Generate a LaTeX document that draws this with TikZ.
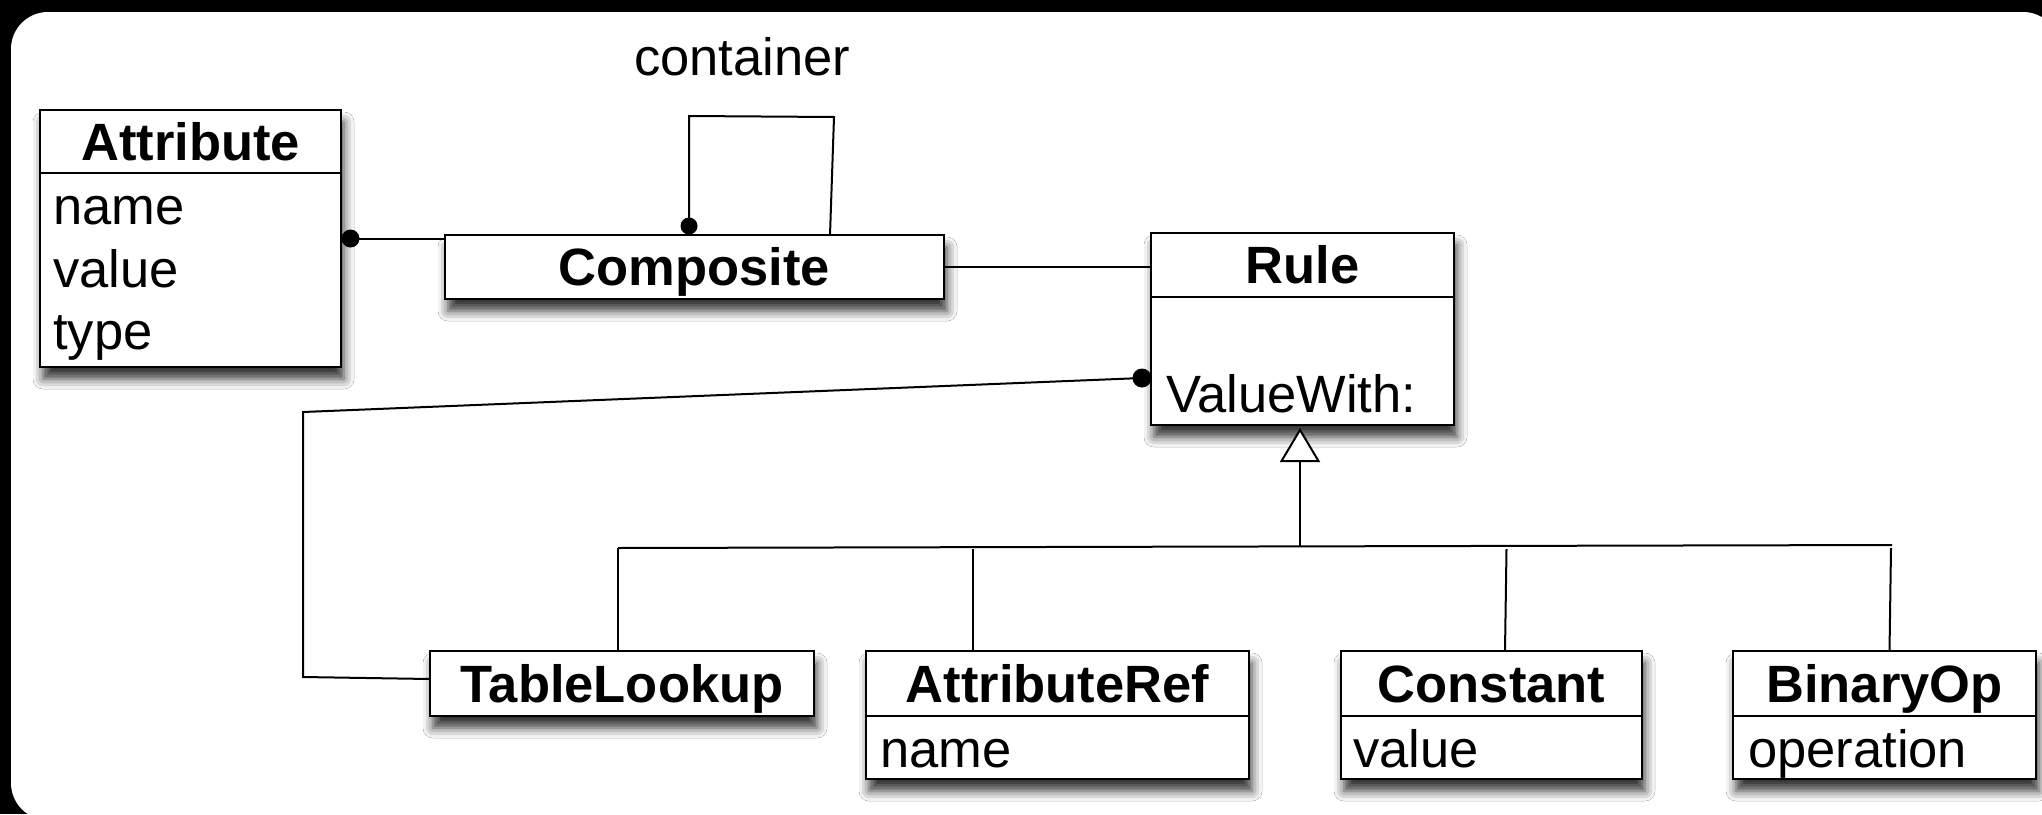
\documentclass[tikz,border=0pt]{standalone}
\usepackage{fontspec}
\setmainfont{Liberation Sans}
\usetikzlibrary{arrows.meta,calc,shadows.blur}
\begin{document}
\begin{tikzpicture}[x=1pt,y=-1pt,
  classbox/.style={draw, fill=white, line width=2.5pt, inner sep=0pt, outer sep=0pt, anchor=north west,
    blur shadow={shadow xshift=3pt, shadow yshift=-12pt, shadow blur radius=10pt, shadow opacity=80}},
  classtitle/.style={font=\fontsize{52.5}{63}\selectfont\bfseries, inner sep=0pt, text height=37.5pt, text depth=0pt, anchor=center},
  classitem/.style={font=\fontsize{52.5}{63}\selectfont, inner sep=0pt, anchor=base west},
  conn/.style={line width=2pt},
  divline/.style={line width=2.5pt},
  enddot/.style={circle, fill=black, draw=none, inner sep=0pt, minimum size=18pt}]
\useasboundingbox (0,0) rectangle (2042,814);
\fill[black] (0,0) rectangle (2042,814);
\fill[white, rounded corners=37pt] (11,12) rectangle (2060,820);

% class boxes
\node[classbox, minimum width=301pt, minimum height=257pt] (Attribute) at (40,110) {};
\node[classbox, minimum width=499pt, minimum height=64pt] (Composite) at (445,235) {};
\node[classbox, minimum width=303pt, minimum height=192pt] (Rule) at (1151,233) {};
\node[classbox, minimum width=384pt, minimum height=65pt] (TableLookup) at (430,651) {};
\node[classbox, minimum width=383pt, minimum height=128pt] (AttributeRef) at (866,651) {};
\node[classbox, minimum width=301pt, minimum height=128pt] (Constant) at (1341,651) {};
\node[classbox, minimum width=303pt, minimum height=128pt] (BinaryOp) at (1733,651) {};

% dividers
\draw[divline] ($(Attribute.north west)+(0,63)$) -- ($(Attribute.north east)+(0,63)$);
\draw[divline] ($(Rule.north west)+(0,64)$) -- ($(Rule.north east)+(0,64)$);
\draw[divline] ($(AttributeRef.north west)+(0,65)$) -- ($(AttributeRef.north east)+(0,65)$);
\draw[divline] ($(Constant.north west)+(0,65)$) -- ($(Constant.north east)+(0,65)$);
\draw[divline] ($(BinaryOp.north west)+(0,65)$) -- ($(BinaryOp.north east)+(0,65)$);

% titles
\node[classtitle] (tAttribute) at ($(Attribute.north)+(0,31.5)$) {Attribute};
\node[classtitle] (tComposite) at (Composite.center) {Composite};
\node[classtitle] (tRule) at ($(Rule.north)+(0,32)$) {Rule};
\node[classtitle] (tTableLookup) at (TableLookup.center) {TableLookup};
\node[classtitle] (tAttributeRef) at ($(AttributeRef.north)+(0,32.5)$) {AttributeRef};
\node[classtitle] (tConstant) at ($(Constant.north)+(0,32.5)$) {Constant};
\node[classtitle] (tBinaryOp) at ($(BinaryOp.north)+(0,32.5)$) {BinaryOp};

% items
\node[classitem] (iName) at (53,224) {name};
\node[classitem] (iValue) at (53,287) {value};
\node[classitem] (iType) at (53,349) {type};
\node[classitem] (iValueWith) at (1166,412) {ValueWith:};
\node[classitem] (iRefName) at (880,767) {name};
\node[classitem] (iConstValue) at (1353,767) {value};
\node[classitem] (iOperation) at (1748,767) {operation};

% Attribute -- Composite
\draw[conn] (Attribute.east) -- (Attribute.east -| Composite.west);
\node[enddot] (dotA) at ($(Attribute.east)+(9.5,0)$) {};

% container self association
\coordinate (loopL) at (689,116);
\coordinate (loopR) at (834,117);
\draw[conn] (Composite.north -| loopL) -- (loopL) -- (loopR) -- ($(Composite.north -| loopR)+(-4,0)$);
\node[enddot, minimum size=17pt] (dotC) at ($(Composite.north -| loopL)+(0,-9)$) {};
\node[classitem, anchor=base] (lblContainer) at (742,75) {container};

% Composite -- Rule
\draw[conn] (Composite.east) -- (Composite.east -| Rule.west);

% Rule -- TableLookup
\node[enddot, minimum size=19pt] (dotR) at (1142,378) {};
\coordinate (bendA) at (303,412);
\coordinate (bendB) at (303,677);
\draw[conn] (dotR.center) -- (bendA) -- (bendB) -- ($(TableLookup.north west)+(0,28)$);

% generalization
\coordinate (gen) at (1300,547);
\coordinate (barL) at (618,548);
\coordinate (barR) at (1892,545);
\coordinate (vAR) at (973,549);
\coordinate (vCo) at (1506.5,549);
\coordinate (vBO) at (1891,548);
\draw[conn] (barL) -- (barR);
\draw[conn, -{Triangle[length=34pt,width=40pt,fill=white]}] (gen) -- ($(Rule.south -| gen)+(0,3)$);
\draw[conn] (barL) -- (barL |- TableLookup.north);
\draw[conn] (vAR) -- (vAR |- AttributeRef.north);
\draw[conn] (vCo) -- ($(Constant.north west)+(164,0)$);
\draw[conn] (vBO) -- ($(BinaryOp.north west)+(156.5,0)$);
\end{tikzpicture}
\end{document}
